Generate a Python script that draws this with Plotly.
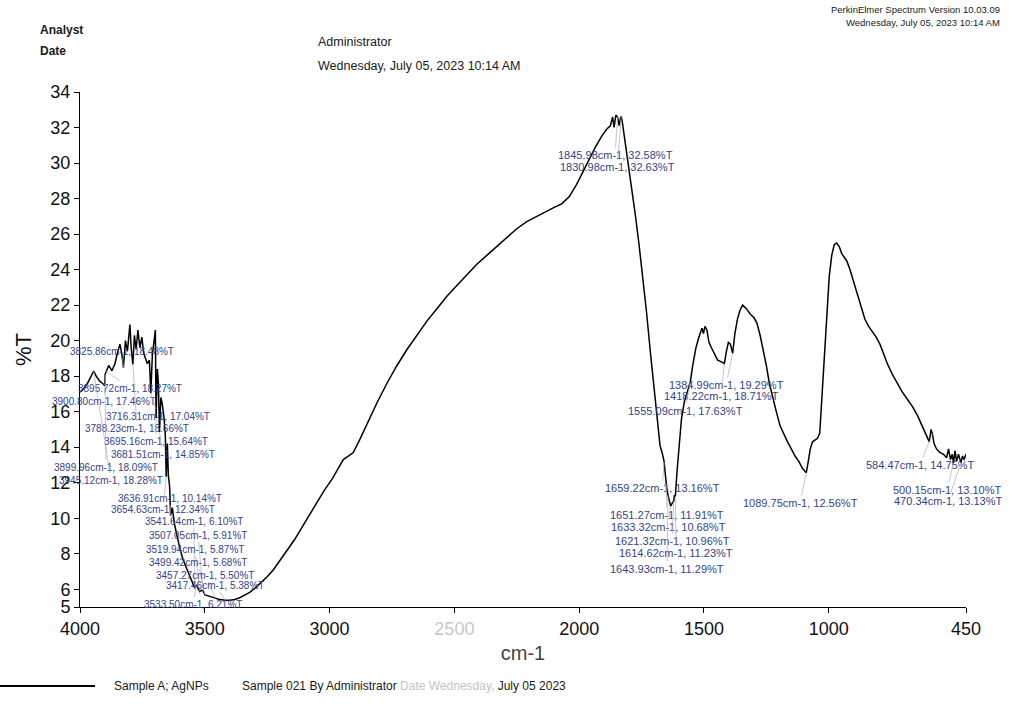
import plotly.graph_objects as go

# ---- traced FT-IR transmittance spectrum (cm-1, %T) ----
base_wn = [4000, 3985, 3970, 3958, 3935, 3920, 3910, 3885, 3872, 3860, 3850, 3840, 3832,
           3818, 3810, 3800, 3795, 3782, 3775, 3768, 3760, 3752, 3745, 3738, 3730, 3722,
           3710, 3703, 3698, 3690, 3686, 3676, 3670, 3663, 3658, 3650, 3646, 3641,
           3630, 3622, 3612, 3600, 3588, 3575, 3562, 3550, 3526, 3513, 3488, 3470,
           3445, 3430, 3400, 3380, 3360, 3340, 3320, 3300, 3275, 3250, 3225, 3200, 3170,
           3140, 3110, 3080, 3050, 3020, 2990, 2965, 2945, 2925, 2905, 2880, 2850, 2810,
           2770, 2730, 2690, 2650, 2610, 2570, 2530, 2490, 2450, 2410, 2370, 2330, 2290,
           2250, 2210, 2170, 2130, 2100, 2070, 2040, 2010, 1985, 1960, 1935, 1910, 1890,
           1875, 1866, 1860, 1853, 1840, 1835, 1826, 1818, 1805, 1790, 1775, 1760, 1745,
           1730, 1715, 1700, 1688, 1676, 1666, 1655, 1648, 1638, 1627, 1618, 1608, 1600,
           1590, 1578, 1566, 1545, 1532, 1520, 1508, 1502, 1496, 1488, 1480, 1470, 1458,
           1445, 1430, 1410, 1402, 1394, 1376, 1366, 1356, 1345, 1330, 1315, 1300, 1288,
           1275, 1262, 1250, 1238, 1225, 1210, 1195, 1180, 1165, 1150, 1135, 1120, 1105,
           1095, 1082, 1074, 1065, 1055, 1045, 1036, 1028, 1018, 1008, 998, 988, 978, 968,
           958, 948, 938, 928, 915, 900, 885, 870, 855, 840, 825, 810, 795, 780, 765, 745,
           725, 705, 685, 665, 645, 625, 608, 597, 590, 578, 568, 555, 540, 528, 520, 512,
           505, 494, 488, 480, 476, 464, 458, 450]
base_t = [17.1, 17.3, 17.6, 17.9, 18.0, 17.7, 17.6, 18.6, 18.3, 18.7, 19.3, 19.8, 19.2,
          20.0, 19.4, 20.9, 19.6, 20.3, 19.5, 20.6, 19.6, 20.2, 19.3, 19.0, 18.7, 18.9,
          19.2, 20.0, 20.6, 18.4, 17.6, 16.8, 16.4, 15.6, 14.6, 14.2, 12.4, 11.8,
          10.6, 9.7, 9.0, 8.3, 7.7, 7.2, 6.8, 6.4, 6.0, 5.95, 5.62, 5.55,
          5.44, 5.40, 5.38, 5.42, 5.52, 5.65, 5.82, 6.05, 6.35, 6.7, 7.1, 7.6, 8.2,
          8.8, 9.5, 10.2, 10.9, 11.6, 12.2, 12.8, 13.3, 13.5, 13.7, 14.4, 15.3, 16.5,
          17.6, 18.6, 19.5, 20.3, 21.1, 21.8, 22.5, 23.1, 23.7, 24.3, 24.8, 25.3, 25.8,
          26.3, 26.7, 27.0, 27.3, 27.5, 27.7, 28.1, 28.8, 29.5, 30.2, 30.9, 31.5, 31.9,
          32.1, 32.6, 32.0, 32.7, 32.1, 32.5, 32.2, 31.4, 30.2, 28.7, 27.1, 25.4, 23.6,
          21.6, 19.4, 17.3, 15.6, 14.1, 13.6, 12.5, 11.6, 11.0, 10.85, 11.3, 12.6, 14.2,
          15.6, 16.6, 17.1, 18.6, 19.6, 20.2, 20.7, 20.4, 20.8, 20.6, 19.9, 19.6, 19.3,
          18.9, 18.8, 19.4, 19.9, 19.8, 20.4, 21.2, 21.7, 22.0, 21.8, 21.5, 21.3, 21.0,
          20.3, 19.5, 18.6, 17.6, 16.8, 16.0, 15.2, 14.7, 14.3, 13.9, 13.5, 13.2, 12.8,
          12.65, 13.2, 13.9, 14.3, 14.4, 14.5, 14.8, 16.6, 19.2, 21.7, 23.6, 24.8, 25.4, 25.5,
          25.3, 24.9, 24.7, 24.5, 24.0, 23.3, 22.7, 21.9, 21.2, 20.8, 20.5, 20.2, 19.8, 19.2,
          18.7, 18.1, 17.6, 17.1, 16.7, 16.3, 15.8, 15.2, 14.7, 14.3, 15.0, 14.2, 13.9, 13.7,
          13.6, 13.4, 13.9, 13.3, 13.6, 13.8, 13.2, 13.6, 13.4, 13.5, 13.3, 13.6]

# ---- picked peaks ----
peak_wn = [3825.86, 3895.72, 3900.80, 3716.31, 3788.23, 3695.16, 3681.51, 3899.96,
           3945.12, 3636.91, 3654.63, 3541.64, 3507.05, 3519.94, 3499.42, 3457.27,
           3417.46, 3533.50, 1845.98, 1830.98, 1384.99, 1418.22, 1555.09, 1659.22,
           1651.27, 1633.32, 1621.32, 1614.62, 1643.93, 1089.75, 584.47, 500.15, 470.34]
peak_t = [18.48, 18.27, 17.46, 17.04, 18.66, 15.64, 14.85, 18.09,
          18.28, 10.14, 12.34, 6.10, 5.91, 5.87, 5.68, 5.50,
          5.38, 6.21, 32.58, 32.63, 19.29, 18.71, 17.63, 13.16,
          11.91, 10.68, 10.96, 11.23, 11.29, 12.56, 14.75, 13.10, 13.13]

x_ticks = [4000, 3500, 3000, 2500, 2000, 1500, 1000, 450]
y_ticks = [5, 6, 8, 10, 12, 14, 16, 18, 20, 22, 24, 26, 28, 30, 32, 34]

# merge traced points with the picked peaks, ordered by wavenumber
pts = sorted(zip(base_wn + peak_wn, base_t + peak_t), key=lambda p: -p[0])
spec_wn = [p[0] for p in pts]
spec_t = [p[1] for p in pts]

# page / plot geometry (pixels)
W, H = 1011, 708
ML, MR, MT, MB = 80, 45, 92, 101
X0, X1 = 4000, 450
Y0, Y1 = 5, 34
PW, PH = W - ML - MR, H - MT - MB


def px_to_data(cx, cy):
    wn = X0 + (cx - ML) / PW * (X1 - X0)
    t = Y0 + (H - MB - cy) / PH * (Y1 - Y0)
    return wn, t


def px_to_paper(cx, cy):
    return (cx - ML) / PW, (H - MB - cy) / PH


# label centres on the page, one per peak
label_px = [(122, 351), (130, 388), (104, 401), (158, 416), (137, 428), (156, 441),
            (163, 454), (106, 467), (111, 480), (170, 498), (163, 509), (194, 521),
            (198, 535), (195, 549), (198, 562), (205, 575), (215, 585), (193, 604),
            (615, 155), (617, 167), (726, 385), (721, 396), (685, 411), (662, 488),
            (667, 515), (668, 527), (672, 541), (676, 553), (667, 569), (800, 503),
            (920, 465), (947, 490), (948, 501)]

FONT = "Liberation Sans, Arial, sans-serif"
LABEL_BLUE = "#33438a"

fig = go.Figure()
fig.add_trace(go.Scatter(x=spec_wn, y=spec_t, mode="lines",
                         line=dict(color="black", width=1.5),
                         name="Sample A; AgNPs", showlegend=False, hoverinfo="skip"))

annotations = []
for wn, t, (cx, cy) in zip(peak_wn, peak_t, label_px):
    lx, ly = px_to_data(cx, cy)
    annotations.append(dict(
        x=wn, y=t, xref="x", yref="y", axref="x", ayref="y", ax=lx, ay=ly,
        text=f"{wn:.2f}cm-1, {t:.2f}%T", showarrow=True, arrowhead=0,
        arrowwidth=0.7, arrowcolor="#a9adbd", standoff=0, startstandoff=0,
        font=dict(family=FONT, size=10 if wn > 3000 else 11, color=LABEL_BLUE)))


def page_text(cx, cy, text, size, anchor="left"):
    px, py = px_to_paper(cx, cy)
    return dict(x=px, y=py, xref="paper", yref="paper", text=text, showarrow=False,
                xanchor=anchor, yanchor="middle",
                font=dict(family=FONT, size=size, color="#1a1a1a"))


# header and footer texts
annotations += [
    page_text(38, 30, "<b>Analyst</b>", 12),
    page_text(38, 51, "<b>Date</b>", 12),
    page_text(316, 42, "Administrator", 12.5),
    page_text(316, 66, "Wednesday, July 05, 2023 10:14 AM", 12.5),
    page_text(1002, 10, "PerkinElmer Spectrum Version 10.03.09", 9.5, "right"),
    page_text(1002, 23, "Wednesday, July 05, 2023 10:14 AM", 9.5, "right"),
    page_text(112, 686, "Sample A; AgNPs", 12),
    page_text(240, 686, "Sample 021 By Administrator "
              "<span style='color:#c4c4c4'>Date Wednesday,</span> July 05 2023", 12),
]

lx0, ly0 = px_to_paper(0, 686)
lx1, _ = px_to_paper(95, 686)

x_text = [f"<span style='color:#c8c8c8'>{v}</span>" if v == 2500 else str(v) for v in x_ticks]

fig.update_layout(
    width=W, height=H,
    margin=dict(l=ML, r=MR, t=MT, b=MB, autoexpand=False),
    paper_bgcolor="white", plot_bgcolor="white",
    showlegend=False,
    annotations=annotations,
    shapes=[dict(type="line", xref="paper", yref="paper",
                 x0=lx0, x1=lx1, y0=ly0, y1=ly0,
                 line=dict(color="black", width=2))],
    xaxis=dict(range=[X0, X1], tickvals=x_ticks, ticktext=x_text,
               showgrid=False, zeroline=False, showline=True, linecolor="black",
               linewidth=1, ticks="outside", ticklen=5, tickcolor="black",
               tickfont=dict(family=FONT, size=18, color="#111"),
               title=dict(text="cm-1", font=dict(family=FONT, size=20, color="#444"),
                          standoff=8)),
    yaxis=dict(range=[Y0, Y1], tickvals=y_ticks,
               showgrid=False, zeroline=False, showline=True, linecolor="black",
               linewidth=1, ticks="outside", ticklen=5, tickcolor="black",
               tickfont=dict(family=FONT, size=18, color="#111"),
               title=dict(text="%T", font=dict(family=FONT, size=22, color="#111"),
                          standoff=12)),
)

fig.write_html("out.html")
